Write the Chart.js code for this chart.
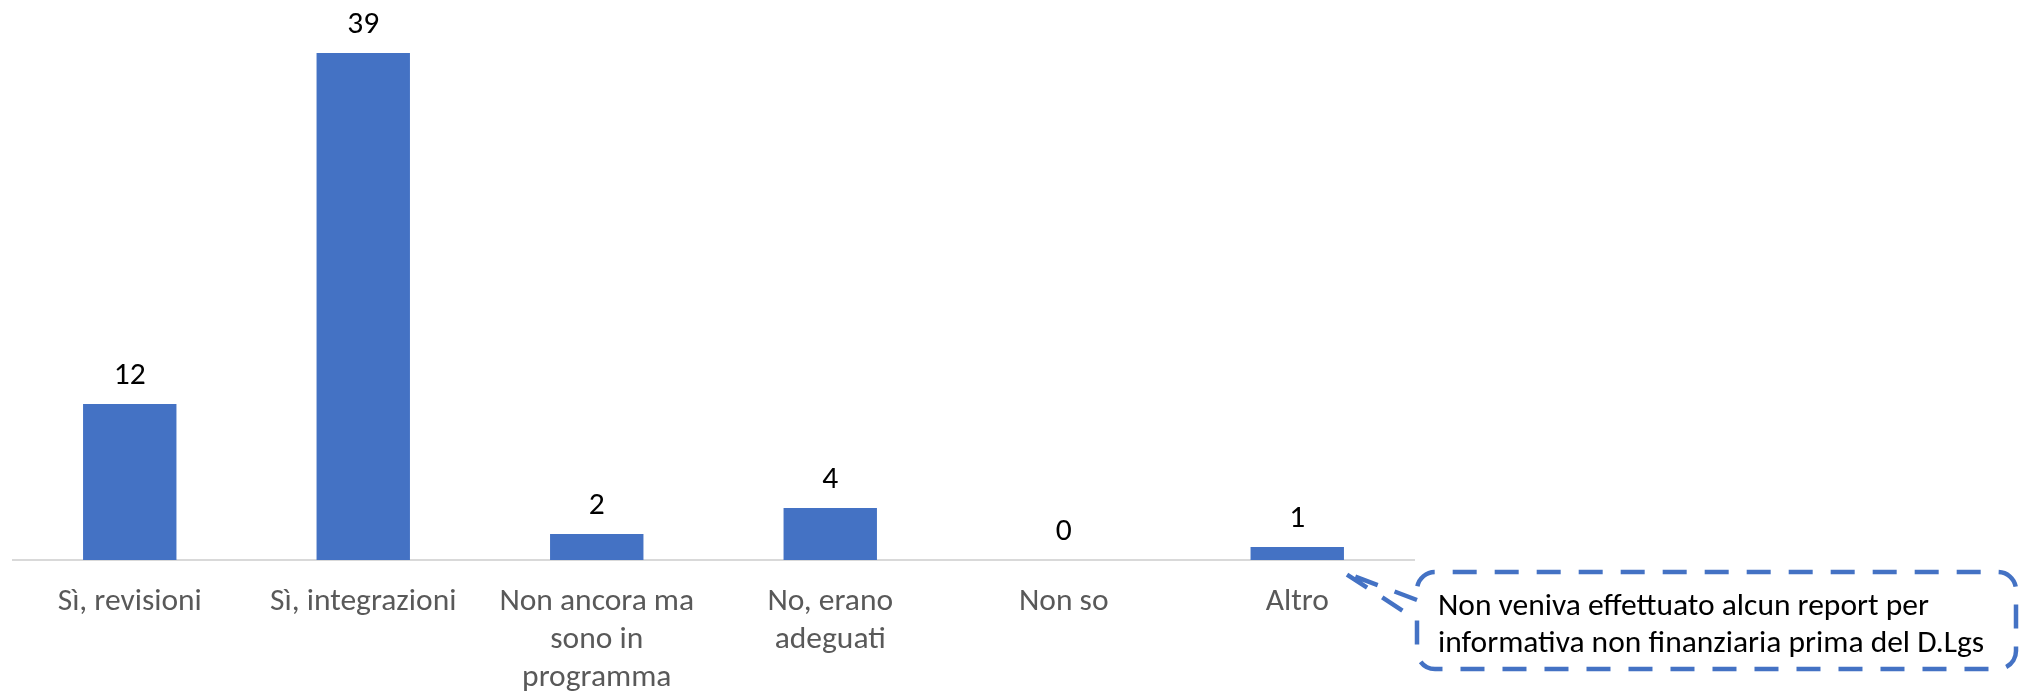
<html>
<head>
<style>
  body { margin: 0; background: #fff; }
  canvas { display: block; }
</style>
</head>
<body>
<canvas id="myChart" width="2028" height="694"></canvas>
<script src="https://cdn.jsdelivr.net/npm/chart.js@4/dist/chart.umd.min.js"></script>
<script>
var categories = [
  'Sì, revisioni',
  'Sì, integrazioni',
  ['Non ancora ma', 'sono in', 'programma'],
  ['No, erano', 'adeguati'],
  'Non so',
  'Altro'
];
var values = [12, 39, 2, 4, 0, 1];
var noteLines = [
  'Non veniva effettuato alcun report per',
  'informativa non finanziaria prima del D.Lgs'
];

var FONT = 'Carlito, Lato, sans-serif';
var SIZE = 31.5;
var BLUE = '#4472C4';

// numbers above the bars
var valueLabels = {
  id: 'valueLabels',
  afterDatasetsDraw: function(chart) {
    var ctx = chart.ctx;
    var meta = chart.getDatasetMeta(0);
    ctx.save();
    ctx.font = SIZE + 'px ' + FONT;
    ctx.fillStyle = '#000';
    ctx.textAlign = 'center';
    ctx.textBaseline = 'alphabetic';
    meta.data.forEach(function(bar, i) {
      ctx.fillText(String(values[i]), bar.x, bar.y - 20);
    });
    ctx.restore();
  }
};

// dashed callout next to "Altro"
var callout = {
  id: 'callout',
  afterDraw: function(chart) {
    var ctx = chart.ctx;
    var meta = chart.getDatasetMeta(0);
    var bar = meta.data[meta.data.length - 1];
    var base = chart.chartArea.bottom;
    var tipX = bar.x + bar.width / 2 - 1, tipY = base + 12;
    var x0 = chart.chartArea.right + 3, y0 = base + 12;
    var x1 = 2016, y1 = base + 109, r = 18;
    ctx.save();
    ctx.strokeStyle = BLUE;
    ctx.lineWidth = 4.5;
    ctx.setLineDash([24, 18]);
    ctx.beginPath();
    ctx.moveTo(x0, y0 + 28);
    ctx.lineTo(tipX, tipY);
    ctx.lineTo(x0, y0 + 48);
    ctx.lineTo(x0, y1 - r);
    ctx.arcTo(x0, y1, x0 + r, y1, r);
    ctx.lineTo(x1 - r, y1);
    ctx.arcTo(x1, y1, x1, y1 - r, r);
    ctx.lineTo(x1, y0 + r);
    ctx.arcTo(x1, y0, x1 - r, y0, r);
    ctx.lineTo(x0 + r, y0);
    ctx.arcTo(x0, y0, x0, y0 + r, r);
    ctx.lineTo(x0, y0 + 28);
    ctx.stroke();
    ctx.setLineDash([]);
    ctx.font = SIZE + 'px ' + FONT;
    ctx.fillStyle = '#000';
    ctx.textAlign = 'left';
    ctx.textBaseline = 'alphabetic';
    ctx.fillText(noteLines[0], x0 + 21, base + 55);
    ctx.fillText(noteLines[1], x0 + 21, base + 92);
    ctx.restore();
  }
};

new Chart(document.getElementById('myChart'), {
  type: 'bar',
  data: {
    labels: categories,
    datasets: [{
      data: values,
      backgroundColor: BLUE,
      borderWidth: 0,
      categoryPercentage: 1,
      barPercentage: 0.4
    }]
  },
  options: {
    responsive: false,
    animation: false,
    layout: { padding: { left: 13, right: 614, top: 40, bottom: 0 } },
    plugins: {
      legend: { display: false },
      tooltip: { enabled: false }
    },
    scales: {
      x: {
        grid: { display: false, drawTicks: false, tickLength: 0 },
        border: { display: true, color: '#D9D9D9', width: 2 },
        ticks: {
          color: '#595959',
          padding: 23,
          maxRotation: 0,
          autoSkip: false,
          font: { family: FONT, size: SIZE, lineHeight: 1.21 }
        },
        afterFit: function(s) { s.height = 134; }
      },
      y: {
        display: false,
        min: 0,
        max: 40
      }
    }
  },
  plugins: [valueLabels, callout]
});
</script>
</body>
</html>
